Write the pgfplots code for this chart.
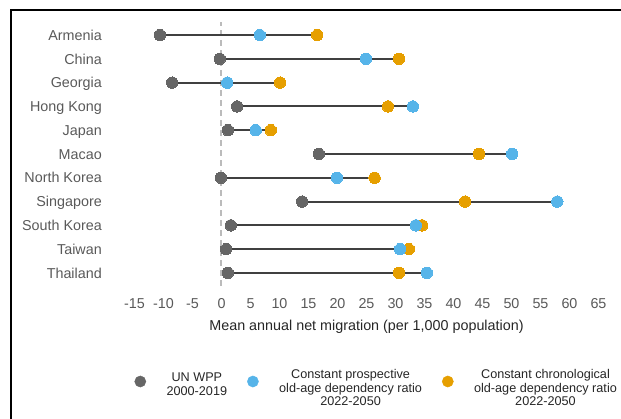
\documentclass[border=0pt]{standalone}
\usepackage{fontspec}
\setmainfont{Liberation Sans}
\usepackage{pgfplots}
\pgfplotsset{compat=1.18}
\definecolor{cwpp}{HTML}{666666}
\definecolor{cpro}{HTML}{56B4E9}
\definecolor{cchr}{HTML}{E69F00}
\definecolor{cline}{HTML}{404040}
\definecolor{ctick}{HTML}{595959}
\definecolor{ctitle}{HTML}{262626}
\definecolor{czero}{HTML}{BBBBBB}
\begin{document}
\begin{tikzpicture}
\useasboundingbox (-134.5bp,-133bp) rectangle (486.5bp,286bp);
\begin{axis}[
  at={(0,0)}, anchor=south west,
  scale only axis, width=464bp, height=264bp,
  xmin=-15, xmax=65, ymin=0.45, ymax=11.55,
  axis line style={draw=none}, major tick length=0pt,
  xtick={-15,-10,...,65},
  ytick={1,...,11},
  yticklabels={Thailand,Taiwan,South Korea,Singapore,North Korea,Macao,Japan,Hong Kong,Georgia,China,Armenia},
  /pgf/number format/assume math mode=true,
  xticklabel style={font=\fontsize{14.4}{17}\selectfont, text=ctick, anchor=base, inner sep=0pt, yshift=-22bp},
  yticklabel style={font=\fontsize{14.4}{17}\selectfont, text=ctick, anchor=base east, inner sep=0pt, xshift=-32.5bp, yshift=-5.2bp},
  xlabel={Mean annual net migration (per 1,000 population)},
  xlabel style={at={(axis cs:25,0.45)}, anchor=base, inner sep=0pt, yshift=-44bp, font=\fontsize{14.4}{17}\selectfont, text=ctitle},
  legend columns=3,
  legend cell align=center,
  legend style={at={(axis cs:-15,0.45)}, anchor=west, yshift=-95.5bp, draw=none, fill=none, inner sep=0pt, outer sep=0pt,
    font=\fontsize{12.7}{13.5}\selectfont, text=ctitle, nodes={inner sep=0pt},
    /tikz/every odd column/.append style={column sep=20.5bp},
    /tikz/every even column/.append style={column sep=20bp}},
]
\addplot[czero, line width=2bp, dash pattern=on 6bp off 4bp, forget plot] coordinates {(0,0.45) (0,11.55)};
% connecting lines (min to max)
\addplot[cline, line width=1.9bp, forget plot] coordinates {(-10.6,11) (16.5,11)};
\addplot[cline, line width=1.9bp, forget plot] coordinates {(-0.3,10) (30.6,10)};
\addplot[cline, line width=1.9bp, forget plot] coordinates {(-8.5,9) (10.1,9)};
\addplot[cline, line width=1.9bp, forget plot] coordinates {(2.7,8) (33.0,8)};
\addplot[cline, line width=1.9bp, forget plot] coordinates {(1.1,7) (8.5,7)};
\addplot[cline, line width=1.9bp, forget plot] coordinates {(16.8,6) (50.1,6)};
\addplot[cline, line width=1.9bp, forget plot] coordinates {(-0.1,5) (26.4,5)};
\addplot[cline, line width=1.9bp, forget plot] coordinates {(13.9,4) (57.9,4)};
\addplot[cline, line width=1.9bp, forget plot] coordinates {(1.6,3) (34.6,3)};
\addplot[cline, line width=1.9bp, forget plot] coordinates {(0.8,2) (32.3,2)};
\addplot[cline, line width=1.9bp, forget plot] coordinates {(1.1,1) (35.4,1)};
% UN WPP
\addplot[cwpp, only marks, mark=*, mark size=5.7bp, mark options={fill=cwpp, draw=cwpp, line width=0pt},
  legend image code/.code={\fill[cwpp] (0bp,0bp) circle (5.6bp);}]
  coordinates {(-10.6,11) (-0.3,10) (-8.5,9) (2.7,8) (1.1,7) (16.8,6) (-0.1,5) (13.9,4) (1.6,3) (0.8,2) (1.1,1)};
\addlegendentry{\begin{tabular}{@{}c@{}}UN WPP\\2000-2019\end{tabular}}
% chronological (drawn before prospective)
\addplot[cchr, only marks, mark=*, mark size=5.7bp, mark options={fill=cchr, draw=cchr, line width=0pt}, forget plot]
  coordinates {(16.5,11) (30.6,10) (10.1,9) (28.7,8) (8.5,7) (44.4,6) (26.4,5) (42.0,4) (34.6,3) (32.3,2) (30.6,1)};
% prospective
\addplot[cpro, only marks, mark=*, mark size=5.7bp, mark options={fill=cpro, draw=cpro, line width=0pt},
  legend image code/.code={\fill[cpro] (0bp,0bp) circle (5.6bp);}]
  coordinates {(6.6,11) (24.9,10) (1.0,9) (33.0,8) (5.9,7) (50.1,6) (19.9,5) (57.9,4) (33.5,3) (30.8,2) (35.4,1)};
\addlegendentry{\begin{tabular}{@{}c@{}}Constant prospective\\old-age dependency ratio\\2022-2050\end{tabular}}
\addlegendimage{only marks, mark=*, legend image code/.code={\fill[cchr] (0bp,0bp) circle (5.6bp);}}
\addlegendentry{\begin{tabular}{@{}c@{}}Constant chronological\\old-age dependency ratio\\2022-2050\end{tabular}}
\end{axis}
\draw[line width=2bp, black] (-123.5bp,-150bp) -- (-123.5bp,276bp) -- (500bp,276bp);
\end{tikzpicture}
\end{document}
